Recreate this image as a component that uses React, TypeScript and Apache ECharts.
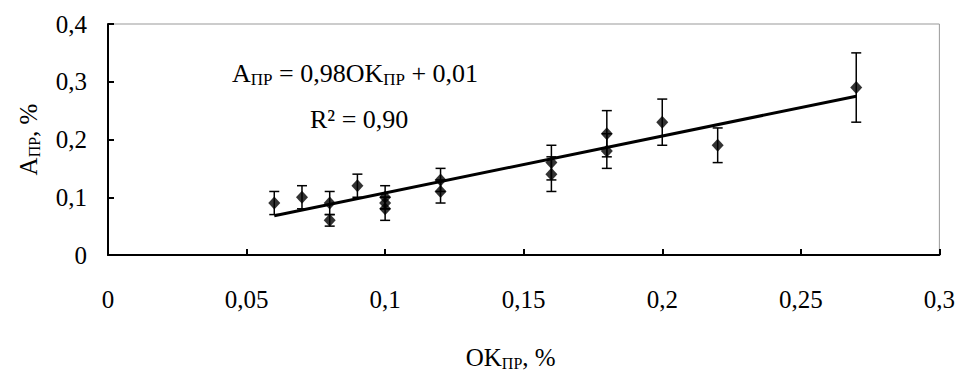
import React, { useEffect, useRef } from "react";
import * as echarts from "echarts";

const okValues = [0.06, 0.07, 0.08, 0.08, 0.09, 0.10, 0.10, 0.10, 0.12, 0.12, 0.16, 0.16, 0.18, 0.18, 0.20, 0.22, 0.27];
const aValues = [0.09, 0.10, 0.09, 0.06, 0.12, 0.10, 0.09, 0.08, 0.13, 0.11, 0.16, 0.14, 0.21, 0.18, 0.23, 0.19, 0.29];
const errValues = [0.02, 0.02, 0.02, 0.01, 0.02, 0.02, 0.01, 0.02, 0.02, 0.02, 0.03, 0.03, 0.04, 0.03, 0.04, 0.03, 0.06];
const trendX = [0.06, 0.27];
const trendY = [0.068, 0.275];
const xTickLabels = ["0", "0,05", "0,1", "0,15", "0,2", "0,25", "0,3"];
const yTickLabels = ["0", "0,1", "0,2", "0,3", "0,4"];

const FONT = "'Times New Roman', 'Liberation Serif', Tinos, serif";

export default function App() {
  const ref = useRef<HTMLDivElement>(null);
  useEffect(() => {
    if (!ref.current) return;
    const chart = echarts.init(ref.current, null, { renderer: "svg" });
    const points = okValues.map((x, i) => [x, aValues[i]]);
    const errData = okValues.map((x, i) => [x, aValues[i] - errValues[i], aValues[i] + errValues[i]]);
    const trend = trendX.map((x, i) => [x, trendY[i]]);
    const subRich = {
      m: { fontFamily: FONT, fontSize: 25, color: "#000", lineHeight: 28 },
      s: { fontFamily: FONT, fontSize: 16, color: "#000", lineHeight: 16, verticalAlign: "bottom" },
    };
    chart.setOption({
      animation: false,
      backgroundColor: "#fff",
      textStyle: { fontFamily: FONT },
      grid: {
        left: 108,
        right: 17,
        top: 24,
        bottom: 115,
        show: true,
        borderColor: "#999",
        borderWidth: 1,
        backgroundColor: "transparent",
      },
      xAxis: {
        type: "value",
        min: 0,
        max: 0.3,
        interval: 0.05,
        splitLine: { show: false },
        axisLine: { show: true, onZero: false, lineStyle: { color: "#000", width: 2 } },
        axisTick: { show: true, inside: true, length: 6, lineStyle: { color: "#000", width: 2 } },
        axisLabel: {
          margin: 32,
          fontFamily: FONT,
          fontSize: 25,
          color: "#000",
          formatter: (v: number) => xTickLabels[Math.round(v / 0.05)] ?? "",
        },
        name: "{m|OK}{s|ПР}{m|, %}",
        nameLocation: "middle",
        nameGap: 88,
        nameTextStyle: { fontFamily: FONT, fontSize: 25, color: "#000", padding: [0, 26, 0, 0], rich: subRich },
      },
      yAxis: {
        type: "value",
        min: 0,
        max: 0.4,
        interval: 0.1,
        splitLine: { show: false },
        axisLine: { show: true, onZero: false, lineStyle: { color: "#000", width: 2 } },
        axisTick: { show: true, inside: true, length: 6, lineStyle: { color: "#000", width: 2 } },
        axisLabel: {
          margin: 21,
          fontFamily: FONT,
          fontSize: 25,
          color: "#000",
          formatter: (v: number) => yTickLabels[Math.round(v / 0.1)] ?? "",
        },
        name: "{m|A}{s|ПР}{m|, %}",
        nameLocation: "middle",
        nameRotate: 90,
        nameGap: 66,
        nameTextStyle: { fontFamily: FONT, fontSize: 25, color: "#000", rich: subRich },
      },
      graphic: [
        {
          type: "text",
          left: 232,
          top: 60,
          style: {
            text: "{m|A}{s|ПР}{m| = 0,98OK}{s|ПР}{m| + 0,01}",
            rich: {
              m: { fontFamily: FONT, fontSize: 26, fill: "#000", lineHeight: 30 },
              s: { fontFamily: FONT, fontSize: 17, fill: "#000", lineHeight: 17, verticalAlign: "bottom" },
            },
          },
        },
        {
          type: "text",
          left: 310,
          top: 106,
          style: {
            text: "R² = 0,90",
            fontFamily: FONT,
            fontSize: 26,
            fill: "#000",
          },
        },
      ],
      series: [
        {
          type: "custom",
          data: errData,
          z: 2,
          renderItem: (params: any, api: any) => {
            const x = api.value(0);
            const lo = api.coord([x, api.value(1)]);
            const hi = api.coord([x, api.value(2)]);
            const hw = 5;
            const st = { stroke: "#000", lineWidth: 1.5 };
            return {
              type: "group",
              children: [
                { type: "line", shape: { x1: hi[0], y1: hi[1], x2: lo[0], y2: lo[1] }, style: st },
                { type: "line", shape: { x1: hi[0] - hw, y1: hi[1], x2: hi[0] + hw, y2: hi[1] }, style: st },
                { type: "line", shape: { x1: lo[0] - hw, y1: lo[1], x2: lo[0] + hw, y2: lo[1] }, style: st },
              ],
            };
          },
        },
        {
          type: "line",
          data: trend,
          z: 3,
          symbol: "none",
          lineStyle: { color: "#000", width: 3 },
        },
        {
          type: "scatter",
          data: points,
          z: 4,
          symbol: "diamond",
          symbolSize: [12, 13],
          itemStyle: { color: "#000" },
        },
      ],
    });
    return () => chart.dispose();
  }, []);
  return (
    <div
      ref={ref}
      style={{ position: "absolute", left: 0, top: 0, width: 958, height: 376, background: "#fff" }}
    />
  );
}
